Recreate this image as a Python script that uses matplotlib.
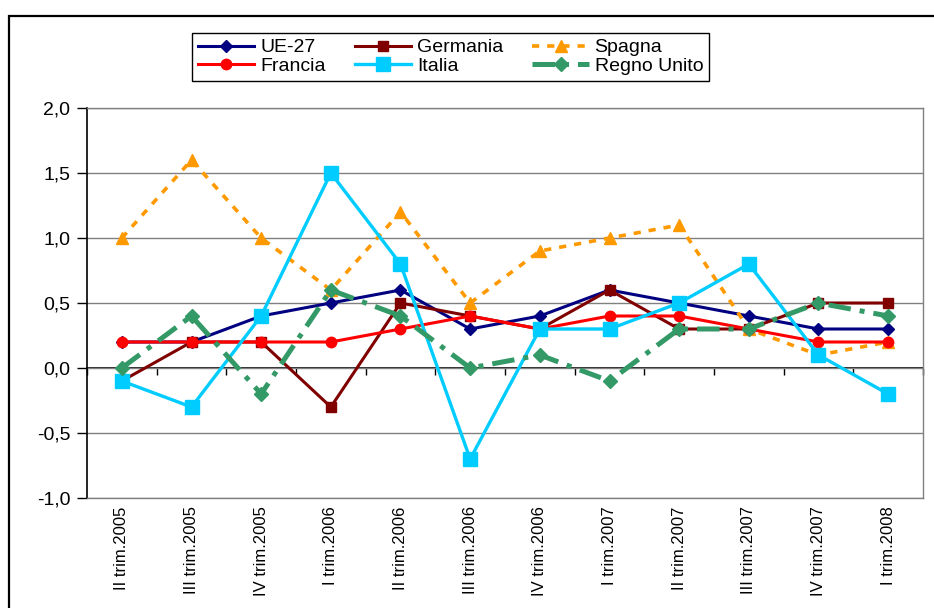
import matplotlib.pyplot as plt
from matplotlib.patches import Rectangle
import numpy as np

plt.rcParams['font.family'] = ['Liberation Sans', 'DejaVu Sans']

# ============================================
# DATA
# ============================================
QUARTERS = ["II trim.2005", "III trim.2005", "IV trim.2005", "I trim.2006",
            "II trim.2006", "III trim.2006", "IV trim.2006", "I trim.2007",
            "II trim.2007", "III trim.2007", "IV trim.2007", "I trim.2008"]

UE27 = [0.2, 0.2, 0.4, 0.5, 0.6, 0.3, 0.4, 0.6, 0.5, 0.4, 0.3, 0.3]
GERMANIA = [-0.1, 0.2, 0.2, -0.3, 0.5, 0.4, 0.3, 0.6, 0.3, 0.3, 0.5, 0.5]
SPAGNA = [1.0, 1.6, 1.0, 0.6, 1.2, 0.5, 0.9, 1.0, 1.1, 0.3, 0.1, 0.2]
FRANCIA = [0.2, 0.2, 0.2, 0.2, 0.3, 0.4, 0.3, 0.4, 0.4, 0.3, 0.2, 0.2]
ITALIA = [-0.1, -0.3, 0.4, 1.5, 0.8, -0.7, 0.3, 0.3, 0.5, 0.8, 0.1, -0.2]
REGNO_UNITO = [0.0, 0.4, -0.2, 0.6, 0.4, 0.0, 0.1, -0.1, 0.3, 0.3, 0.5, 0.4]

Y_TICKS = [-1.0, -0.5, 0.0, 0.5, 1.0, 1.5, 2.0]

# label, values, color, marker, markersize, linewidth, dashes
SERIES = [
    ("UE-27", UE27, "#000080", "D", 6.5, 2.2, None),
    ("Germania", GERMANIA, "#800000", "s", 7.5, 2.2, None),
    ("Spagna", SPAGNA, "#FF9900", "^", 9, 2.6, (2.0, 2.2)),
    ("Francia", FRANCIA, "#FF0000", "o", 7.5, 2.2, None),
    ("Italia", ITALIA, "#00CCFF", "s", 9.5, 2.4, None),
    ("Regno Unito", REGNO_UNITO, "#339966", "D", 7.5, 3.6, (4.5, 1.8, 1, 1.8)),
]

GRID = "#808080"


def main():
    fig = plt.figure(figsize=(9.34, 6.08), dpi=100)
    ax = fig.add_axes([87 / 934, 110 / 608, 836 / 934, 390 / 608])

    x = np.arange(len(QUARTERS))
    handles = {}
    for z, (label, vals, color, marker, ms, lw, dashes) in enumerate(SERIES):
        kw = dict(color=color, marker=marker, markersize=ms, linewidth=lw,
                  markeredgecolor=color, label=label, zorder=3 + z,
                  clip_on=False)
        if dashes is not None:
            kw["linestyle"] = (0, dashes)
        line, = ax.plot(x, vals, **kw)
        handles[label] = line

    ax.set_xlim(-0.5, len(QUARTERS) - 0.5)
    ax.set_ylim(-1.0, 2.0)
    ax.set_yticks(Y_TICKS)
    ax.set_yticklabels([f"{v:.1f}".replace(".", ",") for v in Y_TICKS],
                       fontsize=14)
    ax.yaxis.grid(True, color=GRID, linewidth=1)
    ax.set_axisbelow(True)
    ax.tick_params(axis="y", direction="out", length=7, width=1, pad=5)

    ax.set_xticks(x)
    ax.set_xticklabels(QUARTERS, rotation=90, fontsize=12)
    ax.tick_params(axis="x", length=0, pad=6)

    for side in ("top", "right", "bottom"):
        ax.spines[side].set_color(GRID)
        ax.spines[side].set_linewidth(1)
    ax.spines["left"].set_color("black")
    ax.spines["left"].set_linewidth(1.2)

    # category axis crossing at zero
    sec = ax.secondary_xaxis(1 / 3)
    sec.set_xticks(np.arange(len(QUARTERS) + 1) - 0.5)
    sec.tick_params(direction="out", length=5, width=1, labelbottom=False,
                    labeltop=False)
    sec.spines["bottom"].set_color("black")
    sec.spines["bottom"].set_linewidth(1.2)

    order = ["UE-27", "Francia", "Germania", "Italia", "Spagna", "Regno Unito"]
    leg = fig.legend([handles[k] for k in order], order, ncol=3,
                     loc="upper left",
                     bbox_to_anchor=(192 / 934, 1 - 33 / 608),
                     fontsize=14, frameon=True, fancybox=False,
                     edgecolor="black", framealpha=1, numpoints=1,
                     handlelength=2.9, handletextpad=0.3,
                     columnspacing=1.5, labelspacing=0.05, borderpad=0.3,
                     borderaxespad=0)
    leg.get_frame().set_linewidth(1)

    # outer chart border
    fig.patches.append(Rectangle((9 / 934, -0.1), 1.2, 1.1 - 16 / 608,
                                 transform=fig.transFigure, fill=False,
                                 edgecolor="black", linewidth=1.6))

    fig.savefig("out.png", dpi=100)
    plt.close(fig)


if __name__ == "__main__":
    main()
